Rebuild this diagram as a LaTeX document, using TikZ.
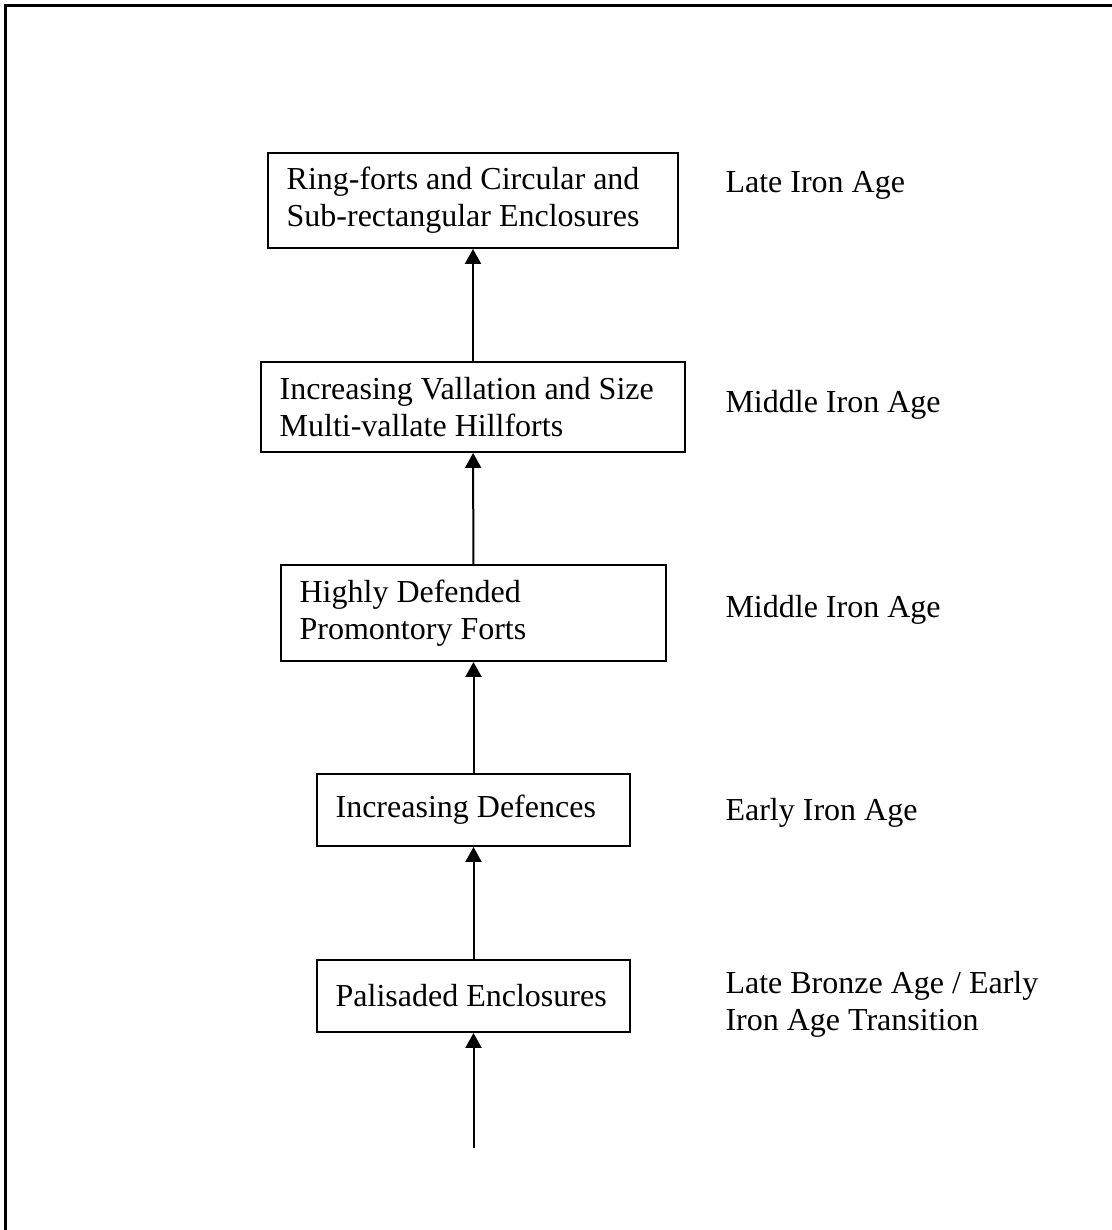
\documentclass[tikz,border=0pt]{standalone}
\usepackage{fontspec}
\setmainfont{Liberation Serif}
\usepackage{tikz}
\usetikzlibrary{arrows.meta}
\tikzset{
  box/.style={draw,line width=0.75pt,align=flush left,inner ysep=0pt,inner xsep=7pt,
    font=\fontsize{12}{13.8}\selectfont},
  arr/.style={-{Triangle[length=5.6pt,width=6pt]},line width=0.75pt},
  period/.style={anchor=base west,align=flush left,inner sep=0pt,
    font=\fontsize{12}{13.8}\selectfont}
}

\begin{document}
\begin{tikzpicture}[x=0.375pt,y=-0.375pt]
\useasboundingbox (0,0) rectangle (1112,1230);
\draw[line width=1.125pt] (5.5,1230) -- (5.5,5.5) -- (1112,5.5);
\node[box, minimum width=153.75pt, minimum height=35.6pt, text width=139.75pt] (ring) at (473,200.5)
  {Ring-forts and Circular and\\Sub-rectangular Enclosures};
\node[box, minimum width=159pt, minimum height=33.75pt, text width=145pt] (vall) at (473,407)
  {Increasing Vallation and Size\\Multi-vallate Hillforts};
\node[box, minimum width=144.4pt, minimum height=36pt, text width=130.4pt] (prom) at (473.5,613)
  {Highly Defended\\Promontory Forts};
\node[box, minimum width=117.4pt, minimum height=27pt, text width=103.4pt] (incr) at (473.5,810)
  {Increasing Defences};
\node[box, minimum width=117.4pt, minimum height=27pt, text width=103.4pt] (pali) at (473.5,996)
  {Palisaded Enclosures};
\coordinate (start) at (473.5,1148);
\draw[arr] (vall) -- (ring);
\draw[arr] (prom) -- (vall);
\draw[arr] (incr) -- (prom);
\draw[arr] (pali) -- (incr);
\draw[arr] (start) -- (pali);
\node[period] (late) at (725,192) {Late Iron Age};
\node[period] (mid1) at (725,412) {Middle Iron Age};
\node[period] (mid2) at (725,617) {Middle Iron Age};
\node[period] (early) at (725,820) {Early Iron Age};
\node[period] (trans) at (725,1030) {Late Bronze Age / Early\\Iron Age Transition};
\end{tikzpicture}
\end{document}
